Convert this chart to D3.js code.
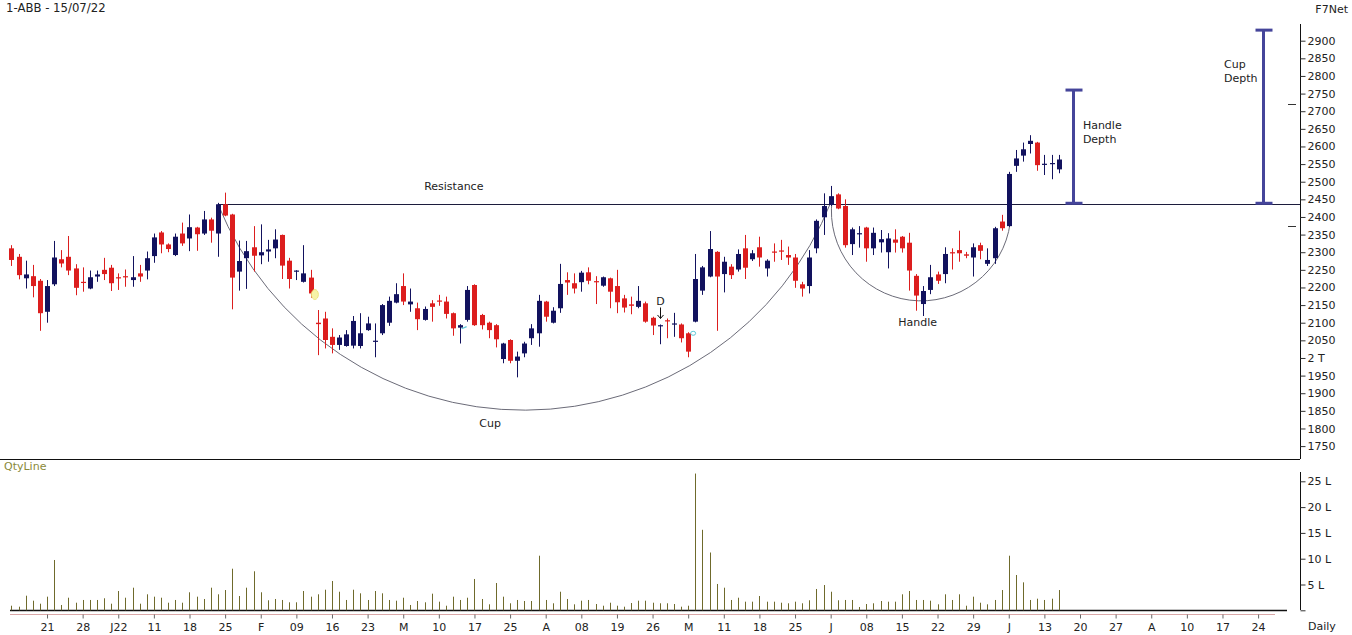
<!DOCTYPE html>
<html><head><meta charset="utf-8">
<script src="https://cdn.jsdelivr.net/npm/d3@7"></script>
<style>
body{margin:0;background:#fff}
svg{display:block}
text{font-family:"DejaVu Sans",Verdana,sans-serif;font-size:11px;fill:#222}
</style>
</head><body>
<svg id="c" width="1352" height="635"></svg>
<script>
// ---- data (index = trading day, 0 = mid-Dec 2021 ... 147 = 15/07/22) ----
const opens=[2311,2287,2226,2232,2219,2131,2209,2280,2287,2254,2216,2197,2231,2250,2256,2229,2232,2221,2240,2248,
2289,2356,2322,2292,2353,2339,2370,2353,2393,2353,2436,2407,2245,2283,2314,2291,2302,2311,2349,2276,
2246,2216,2228,2100,2112,2060,2037,2034,2035,2034,2079,2047,2070,2100,2157,2204,2152,2141,2108,2155,
2163,2160,2127,2086,2108,2207,2122,2100,2093,1997,2051,1992,2013,2056,2070,2160,2100,2141,2221,2212,
2215,2243,2218,2205,2226,2204,2169,2152,2145,2155,2114,2091,2107,2095,2095,2070,2103,2191,2231,2301,
2238,2259,2251,2311,2280,2314,2254,2302,2305,2292,2285,2209,2204,2311,2399,2434,2464,2431,2323,2352,
2370,2311,2328,2300,2336,2344,2327,2233,2153,2193,2237,2238,2300,2306,2294,2285,2320,2267,2283,2387,
2374,2545,2574,2607,2611,2549,2551,2535];
const highs=[2320,2295,2276,2264,2224,2221,2332,2306,2346,2266,2257,2248,2248,2284,2264,2240,2251,2289,2264,2302,
2353,2360,2325,2353,2384,2407,2372,2417,2398,2440,2469,2409,2333,2332,2374,2379,2335,2365,2350,2284,
2249,2320,2250,2136,2131,2084,2065,2079,2119,2127,2117,2098,2153,2174,2212,2240,2197,2157,2146,2164,
2179,2174,2129,2096,2204,2209,2125,2103,2096,2043,2053,2018,2046,2096,2179,2162,2144,2267,2243,2240,
2247,2257,2232,2231,2228,2250,2179,2174,2204,2160,2117,2095,2112,2128,2098,2073,2295,2261,2360,2303,
2287,2266,2308,2349,2306,2344,2280,2325,2335,2316,2295,2216,2306,2393,2467,2488,2467,2450,2370,2374,
2372,2370,2363,2354,2365,2346,2355,2238,2204,2264,2245,2314,2311,2361,2301,2325,2327,2311,2372,2406,
2528,2590,2611,2632,2613,2576,2576,2576];
const lows=[2261,2223,2197,2172,2077,2100,2204,2257,2235,2178,2188,2195,2216,2221,2190,2193,2202,2202,2216,2223,
2270,2297,2300,2289,2318,2303,2304,2349,2327,2287,2402,2138,2191,2196,2245,2266,2273,2283,2224,2197,
2221,2214,2171,2008,2027,2013,2023,2032,2027,2027,2077,2002,2065,2091,2155,2150,2131,2079,2106,2103,
2148,2112,2063,2041,2103,2091,2081,2056,2030,1985,1985,1945,2002,2037,2032,2103,2098,2128,2179,2183,
2188,2209,2153,2202,2141,2127,2129,2124,2141,2100,2065,2039,2056,2060,2044,2002,2101,2179,2229,2077,
2186,2224,2245,2224,2275,2259,2231,2273,2278,2264,2199,2174,2183,2297,2349,2431,2422,2313,2292,2313,
2273,2292,2299,2254,2299,2299,2191,2134,2119,2181,2210,2212,2251,2273,2283,2231,2280,2261,2267,2361,
2372,2528,2557,2580,2531,2519,2507,2524];
const closes=[2278,2235,2237,2204,2127,2204,2285,2268,2248,2199,2214,2229,2237,2238,2212,2226,2230,2229,2231,2283,
2342,2322,2309,2344,2325,2371,2351,2393,2361,2436,2404,2228,2275,2303,2290,2300,2308,2336,2262,2224,
2248,2240,2183,2096,2051,2037,2058,2067,2105,2070,2098,2049,2150,2162,2181,2160,2160,2110,2139,2145,
2162,2125,2084,2093,2193,2093,2093,2079,2053,2041,1992,2004,2041,2084,2162,2117,2134,2210,2214,2197,
2242,2219,2215,2229,2188,2158,2143,2148,2162,2103,2092,2093,2104,2098,2056,2018,2224,2257,2309,2231,
2273,2235,2295,2256,2297,2285,2276,2300,2302,2285,2219,2197,2285,2389,2431,2459,2424,2320,2365,2354,
2311,2355,2337,2339,2327,2311,2248,2177,2190,2229,2219,2295,2297,2297,2290,2314,2304,2278,2368,2368,
2522,2566,2592,2616,2547,2551,2553,2563];
const volumes=[0.89,0.70,2.83,1.86,1.28,2.64,9.75,1.03,2.44,1.47,2.0,2.0,2.0,2.33,1.28,3.74,2.44,4.38,1.28,3.10,
2.64,2.44,1.47,2.0,1.47,3.49,2.64,2.19,4.38,3.10,3.93,8.06,2.77,4.38,7.56,3.49,1.94,2.19,2.0,1.55,
1.55,3.74,2.64,3.10,3.99,5.68,3.60,2.0,3.99,3.29,2.0,3.74,3.29,2.0,1.86,2.44,1.03,1.80,1.55,3.22,
1.67,0.89,2.64,2.0,2.44,6.07,2.19,1.16,5.29,2.64,1.36,2.0,1.80,1.80,10.58,2.0,1.36,3.60,2.19,1.16,
1.86,2.0,1.22,0.89,1.47,0.89,0.70,1.41,1.86,1.86,1.47,1.36,1.36,1.22,0.70,0.89,26.5,15.6,11.2,5.10,
4.38,2.0,2.44,1.67,1.67,2.77,1.67,1.67,1.47,1.36,1.67,1.36,1.94,4.13,4.90,3.60,1.94,2.0,2.0,0.64,
1.22,1.36,1.80,1.67,1.67,3.10,3.74,2.0,2.0,1.86,1.16,3.10,2.0,3.10,0.89,2.64,1.47,1.16,2.0,3.93,
10.58,6.84,5.42,2.0,2.25,2.0,2.25,3.93];
const tickIndex=d3.range(5,176,5);
const tickLabels=["21","28","J22","11","18","25","F","09","16","23","M","10","17","25","A","08","19","26","M","11",
"18","25","J","08","15","22","29","J","13","20","27","A","10","17","24"];
const priceTicks=d3.range(1750,2901,50);
const volTicks=[0,5,10,15,20,25];
const resistance=2436;
const cupPoints=[[29,2436],[71.5,1852],[115.1,2445]];
const handlePoints=[[115.2,2448],[127.7,2162],[140.2,2383]];
const depthBars=[{i:149,from:2436,to:2760,label:["Handle","Depth"]},{i:175.7,from:2436,to:2930,label:["Cup","Depth"]}];
const sideMarks=[2720,2374];

// ---- scales ----
const svg=d3.select("#c");
const x=d3.scaleLinear().domain([0,175]).range([11.4,1258.1]);
const y=d3.scaleLinear().domain([1750,2900]).range([446.1,40.7]);
const yv=d3.scaleLinear().domain([0,25]).range([610.3,481.3]);
const AX=1300;
const RED="#dc1e1e", NAVY="#12125e";
const px=i=>Math.round(x(i))+0.5;

// ---- frame lines ----
svg.append("line").attr("x1",AX+0.5).attr("x2",AX+0.5).attr("y1",24).attr("y2",459).attr("stroke","#111");
svg.append("line").attr("x1",0).attr("x2",AX).attr("y1",459.5).attr("y2",459.5).attr("stroke","#111");
svg.append("line").attr("x1",AX+0.5).attr("x2",AX+0.5).attr("y1",472).attr("y2",610).attr("stroke","#111");
svg.append("line").attr("x1",10).attr("x2",1287).attr("y1",610.5).attr("y2",610.5).attr("stroke","#111").attr("stroke-width",1.3);
svg.append("line").attr("x1",10).attr("x2",1275).attr("y1",614.5).attr("y2",614.5).attr("stroke","#d9a7a7");

// ---- price axis ----
const ya=d3.axisRight(y).tickValues(priceTicks).tickSize(5).tickPadding(2)
  .tickFormat(d=>d===2000?"2 T":d);
const gy=svg.append("g").attr("transform",`translate(${AX+0.5},0)`).call(ya);
gy.select(".domain").remove();
gy.selectAll("line").attr("stroke","#333");
gy.selectAll("text").attr("fill","#222").style("font-size","11px");

// ---- volume axis ----
const va=d3.axisRight(yv).tickValues(volTicks).tickSize(5).tickPadding(2)
  .tickFormat(d=>d===0?"":d+" L");
const gv=svg.append("g").attr("transform",`translate(${AX+0.5},0)`).call(va);
gv.select(".domain").remove();
gv.selectAll("line").attr("stroke","#333");
gv.selectAll("text").attr("fill","#222").style("font-size","11px");

// ---- x axis ----
const xa=d3.axisBottom(x).tickValues(tickIndex).tickSize(4).tickPadding(5)
  .tickFormat((d,i)=>tickLabels[i]);
const gx=svg.append("g").attr("transform","translate(0,614.5)").call(xa);
gx.select(".domain").remove();
gx.selectAll("line").attr("stroke","#666");
gx.selectAll("text").attr("fill","#222").style("font-size","11px");

// ---- resistance ----
svg.append("line").attr("x1",px(29)).attr("x2",AX).attr("y1",Math.round(y(resistance))+0.5).attr("y2",Math.round(y(resistance))+0.5)
  .attr("stroke","#1c1c3c").attr("stroke-width",1.2);

// ---- arcs (circle through three points) ----
function arcPath(pts){
  const P=pts.map(p=>[x(p[0]),y(p[1])]);
  const [a,b,c]=P;
  const d=2*(a[0]*(b[1]-c[1])+b[0]*(c[1]-a[1])+c[0]*(a[1]-b[1]));
  const ux=((a[0]**2+a[1]**2)*(b[1]-c[1])+(b[0]**2+b[1]**2)*(c[1]-a[1])+(c[0]**2+c[1]**2)*(a[1]-b[1]))/d;
  const uy=((a[0]**2+a[1]**2)*(c[0]-b[0])+(b[0]**2+b[1]**2)*(a[0]-c[0])+(c[0]**2+c[1]**2)*(b[0]-a[0]))/d;
  const r=Math.hypot(a[0]-ux,a[1]-uy);
  const large = (uy > (a[1]+c[1])/2) ? 1 : 0;
  return `M${a[0]},${a[1]} A${r},${r} 0 ${large} 0 ${c[0]},${c[1]}`;
}
svg.append("path").attr("d",arcPath(cupPoints)).attr("fill","none").attr("stroke","#6b6b78").attr("stroke-width",1);
svg.append("path").attr("d",arcPath(handlePoints)).attr("fill","none").attr("stroke","#6b6b78").attr("stroke-width",1);

// ---- candles ----
const idx=d3.range(opens.length);
const cg=svg.append("g");
cg.selectAll("line.w").data(idx).join("line").attr("class","w")
  .attr("x1",i=>px(i)).attr("x2",i=>px(i))
  .attr("y1",i=>y(highs[i])).attr("y2",i=>y(lows[i]))
  .attr("stroke",i=>closes[i]<opens[i]?RED:NAVY).attr("stroke-width",1);
cg.selectAll("rect").data(idx).join("rect")
  .attr("x",i=>Math.round(x(i))-2).attr("width",5)
  .attr("y",i=>y(Math.max(opens[i],closes[i])))
  .attr("height",i=>Math.max(1.2,Math.abs(y(opens[i])-y(closes[i]))))
  .attr("fill",i=>closes[i]<opens[i]?RED:NAVY);

// ---- small markers ----
svg.append("ellipse").attr("cx",x(42.6)).attr("cy",y(2180)).attr("rx",3.5).attr("ry",5)
  .attr("fill","#f6f3a8").attr("stroke","#e8e070").attr("stroke-width",0.8);
svg.append("ellipse").attr("cx",x(95.7)).attr("cy",y(2070)).attr("rx",2.5).attr("ry",2)
  .attr("fill","none").attr("stroke","#5fc8d8").attr("stroke-width",1);
svg.append("line").attr("x1",x(63.2)).attr("x2",x(63.9)).attr("y1",y(2083)).attr("y2",y(2089))
  .attr("stroke","#5fc8d8").attr("stroke-width",1.2);
// "D" marker above candle 91
const dTop=y(highs[91]);
svg.append("text").attr("x",px(91)).attr("y",dTop-19).attr("text-anchor","middle").text("D");
svg.append("line").attr("x1",px(91)).attr("x2",px(91)).attr("y1",dTop-17).attr("y2",dTop-6).attr("stroke","#111");
svg.append("path").attr("d",`M${px(91)-3},${dTop-9.5} L${px(91)},${dTop-6} L${px(91)+3},${dTop-9.5}`).attr("fill","none").attr("stroke","#111");

// ---- side marks near axis ----
svg.selectAll("line.sm").data(sideMarks).join("line").attr("class","sm")
  .attr("x1",1288).attr("x2",1296).attr("y1",d=>Math.round(y(d))+0.5).attr("y2",d=>Math.round(y(d))+0.5).attr("stroke","#333");

// ---- depth bars ----
const DB="#45459a";
depthBars.forEach(b=>{
  const cx=Math.round(x(b.i))+0.5;
  svg.append("line").attr("x1",cx).attr("x2",cx).attr("y1",y(b.to)).attr("y2",y(b.from)).attr("stroke",DB).attr("stroke-width",3);
  svg.append("line").attr("x1",cx-8).attr("x2",cx+9).attr("y1",y(b.to)).attr("y2",y(b.to)).attr("stroke",DB).attr("stroke-width",3);
  svg.append("line").attr("x1",cx-8).attr("x2",cx+9).attr("y1",y(b.from)-1).attr("y2",y(b.from)-1).attr("stroke",DB).attr("stroke-width",3);
});
const hb=depthBars[0], cb=depthBars[1];
const ht=svg.append("text").attr("x",x(hb.i)+10).attr("y",129);
ht.append("tspan").attr("x",x(hb.i)+10).text(hb.label[0]);
ht.append("tspan").attr("x",x(hb.i)+10).attr("dy",14).text(hb.label[1]);
const ct=svg.append("text").attr("x",x(cb.i)-39).attr("y",68);
ct.append("tspan").attr("x",x(cb.i)-39).text(cb.label[0]);
ct.append("tspan").attr("x",x(cb.i)-39).attr("dy",14).text(cb.label[1]);

// ---- labels ----
svg.append("text").attr("x",x(62.1)).attr("y",y(2436)-14).attr("text-anchor","middle").text("Resistance");
svg.append("text").attr("x",x(67.2)).attr("y",427).attr("text-anchor","middle").text("Cup");
svg.append("text").attr("x",x(127.2)).attr("y",326).attr("text-anchor","middle").text("Handle");
svg.append("text").attr("x",6).attr("y",12).style("font-size","11.7px").text("1-ABB - 15/07/22");
svg.append("text").attr("x",1348).attr("y",13).attr("text-anchor","end").text("F7Net");
svg.append("text").attr("x",4).attr("y",470).style("fill","#8a8a3a").text("QtyLine");
svg.append("text").attr("x",1308).attr("y",630).text("Daily");

// ---- volume ----
svg.append("g").selectAll("line").data(idx).join("line")
  .attr("x1",i=>px(i)).attr("x2",i=>px(i))
  .attr("y1",yv(0)).attr("y2",i=>yv(volumes[i]))
  .attr("stroke","#6f6a2c").attr("stroke-width",1);
</script>
</body></html>
